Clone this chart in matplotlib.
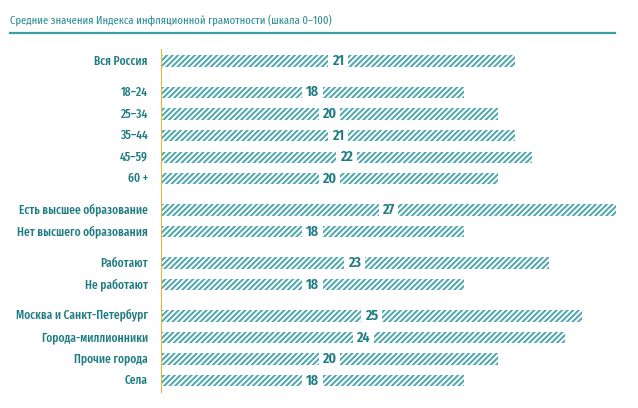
import numpy as np
import matplotlib.pyplot as plt

# Data
categories = ['Вся Россия',
              '18–24', '25–34', '35–44', '45–59', '60 +',
              'Есть высшее образование', 'Нет высшего образования',
              'Работают', 'Не работают',
              'Москва и Санкт-Петербург', 'Города-миллионники', 'Прочие города', 'Села']
values = [21, 18, 20, 21, 22, 20, 27, 18, 23, 18, 25, 24, 20, 18]
groups = [0, 1, 1, 1, 1, 1, 2, 2, 3, 3, 4, 4, 4, 4]
title = 'Средние значения Индекса инфляционной грамотности (шкала 0–100)'

# Style
plt.rcParams['font.family'] = ['Fira Sans Extra Condensed', 'Roboto Condensed', 'DejaVu Sans']
plt.rcParams['hatch.linewidth'] = 1.4
TEAL = '#4aa7ae'
TEXT = '#1d7c83'
ORANGE = '#f2b134'

W, H = 638, 408
fig = plt.figure(figsize=(W / 100, H / 100), dpi=100)

# axes in pixel coordinates: x 161..625, y 49..393
ax = fig.add_axes([161 / W, 1 - 393 / H, (625 - 161) / W, (393 - 49) / H])
ypos = np.arange(len(values)) + 0.45 * np.array(groups)
ax.set_ylim(15.37, -0.556)
ax.set_xlim(0, 464 / 16.85)

ax.barh(ypos, values, height=0.52, color='white', edgecolor=TEAL,
        hatch='//////', linewidth=0)

for y, v, c in zip(ypos, values, categories):
    ax.text(v / 2, y, str(v), ha='center', va='center', fontsize=11,
            fontweight='semibold', color=TEXT,
            bbox=dict(boxstyle='square,pad=0.25', fc='white', ec='none'))
    ax.text(-13 / 16.85, y, c, ha='right', va='center', fontsize=9,
            fontweight='medium', color=TEXT)

ax.axvline(0, color=ORANGE, linewidth=1.5)
for s in ax.spines.values():
    s.set_visible(False)
ax.set_xticks([])
ax.set_yticks([])

# title and rule
fig.text(10 / W, 1 - 20 / H, title, ha='left', va='center', fontsize=8.3,
         color='#2a8d95')
fig.add_artist(plt.Line2D([10 / W, 615 / W], [1 - 33 / H, 1 - 33 / H],
                          color='#3d9fa6', linewidth=1.6))

fig.savefig('out.png', dpi=100)
